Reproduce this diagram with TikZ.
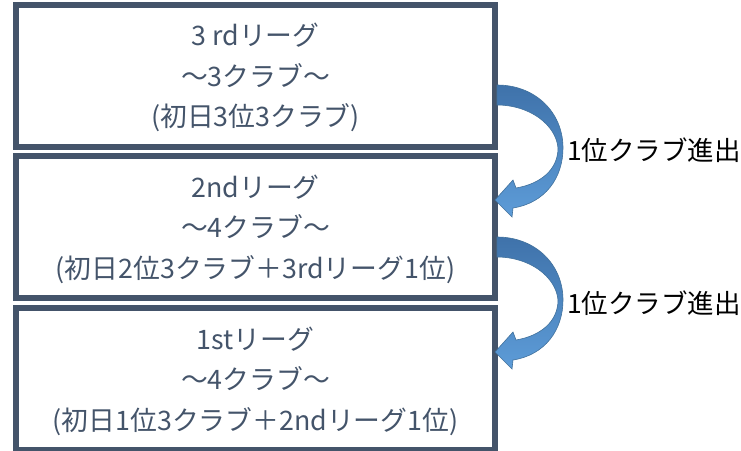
\documentclass[tikz,border=0pt]{standalone}
\usepackage{fontspec}
\setmainfont{Noto Sans CJK JP}
\begin{document}
\begin{tikzpicture}[x=1pt,y=-1pt,
  boxstyle/.style={draw=slate, line width=6pt, minimum width=479pt, minimum height=142pt, inner sep=0pt,
    text=slate, align=center, font=\fontsize{26.8}{40.5}\selectfont},
  lbl/.style={text=black, font=\fontsize{26.5}{30}\selectfont, anchor=west, inner sep=0pt},
  arrowfill/.style={top color=arrowtop, bottom color=arrowbot, draw=arrowline, line width=0.6pt}]
\definecolor{slate}{HTML}{44546A}
\definecolor{arrowtop}{HTML}{3F72AA}
\definecolor{arrowbot}{HTML}{5D9CD8}
\definecolor{arrowline}{HTML}{41719C}
\useasboundingbox (0,0) rectangle (741,450);
\node[boxstyle] (b3) at (255.5,75.5) {};
\node[boxstyle] (b2) at (255.5,227) {};
\node[boxstyle] (b1) at (255.5,379) {};
\node[text=slate, align=center, font=\fontsize{26.8}{40.5}\selectfont] (t3) at ([yshift=-2pt]b3.center) {3 rdリーグ\\～3クラブ～\\(初日3位3クラブ)};
\node[text=slate, align=center, font=\fontsize{26.8}{40.5}\selectfont] (t2) at ([yshift=-2pt]b2.center) {2ndリーグ\\～4クラブ～\\(初日2位3クラブ＋3rdリーグ1位)};
\node[text=slate, align=center, font=\fontsize{26.8}{40.5}\selectfont] (t1) at ([yshift=-2pt]b1.center) {1stリーグ\\～4クラブ～\\(初日1位3クラブ＋2ndリーグ1位)};
\foreach \dy/\nm in {0/a1,152/a2}{
  \begin{scope}[shift={(0,\dy)}]
  \shade[arrowfill] (497,85) .. controls (535,85) and (563,112) .. (563,148)
     .. controls (563,178) and (545,203) .. (513,208)
     -- (512,217) -- (495,200) -- (513,180) -- (516,188)
     .. controls (540,184) and (558,170) .. (558,148)
     .. controls (556,125) and (530,105) .. (497,105) -- cycle;
  \end{scope}
}
\node[lbl] (l1) at (567,150) {1位クラブ進出};
\node[lbl] (l2) at (567,303) {1位クラブ進出};
\end{tikzpicture}
\end{document}
